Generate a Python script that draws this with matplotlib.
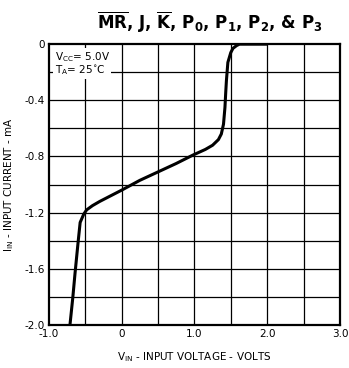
import matplotlib
matplotlib.use('Agg')
import matplotlib.pyplot as plt
import numpy as np

# curve (volts, mA)
vin = [-0.71, -0.67, -0.64, -0.60, -0.57, -0.52, -0.48, -0.40, -0.30, -0.15, 0.0, 0.25, 0.5, 0.75,
       0.98, 1.15, 1.25, 1.33, 1.37, 1.40, 1.42, 1.43, 1.44, 1.46, 1.50, 1.53, 1.58, 1.62, 1.8, 2.0]
iin = [-2.0, -1.80, -1.63, -1.42, -1.27, -1.21, -1.18, -1.15, -1.12, -1.08, -1.04, -0.97, -0.91, -0.85,
       -0.79, -0.75, -0.72, -0.68, -0.64, -0.57, -0.45, -0.35, -0.26, -0.13, -0.06, -0.03, -0.01, 0.0, 0.0, 0.0]

xticks = [-1.0, 0, 1.0, 2.0, 3.0]
xticklabels = ['-1.0', '0', '1.0', '2.0', '3.0']
yticks = [0, -0.4, -0.8, -1.2, -1.6, -2.0]
yticklabels = ['0', '-0.4', '-0.8', '-1.2', '-1.6', '-2.0']

plt.rcParams['mathtext.fontset'] = 'dejavusans'

fig = plt.figure(figsize=(3.49, 3.68), dpi=100)
ax = fig.add_axes([0.140, 0.117, 0.834, 0.763])

for x in np.arange(-0.5, 3.0, 0.5):
    ax.axvline(x, color='black', lw=0.9)
for y in np.arange(-1.8, 0.0, 0.2):
    ax.axhline(y, color='black', lw=0.9)

ax.plot(vin, iin, color='black', lw=2.2, solid_capstyle='butt')

ax.set_xlim(-1.0, 3.0)
ax.set_ylim(-2.0, 0)
ax.set_xticks(xticks)
ax.set_xticklabels(xticklabels, fontsize=7.5)
ax.set_yticks(yticks)
ax.set_yticklabels(yticklabels, fontsize=7.5)
ax.tick_params(length=0, pad=3)
for s in ax.spines.values():
    s.set_linewidth(1.6)

ax.set_xlabel(r'V$_{\rm IN}$ - INPUT VOLTAGE - VOLTS', fontsize=7.5, labelpad=8)
ax.set_ylabel(r'I$_{\rm IN}$ - INPUT CURRENT - mA', fontsize=7.5, labelpad=6)

ax.text(-0.92, -0.04, r'V$_{\rm CC}$= 5.0V' + '\n' + r'T$_{\rm A}$= 25$^{\circ}$C', fontsize=7.5,
        va='top', ha='left', linespacing=1.0,
        bbox=dict(facecolor='white', edgecolor='none', pad=1))

fig.text(0.6, 0.94, r'$\overline{\mathbf{MR}}$, J, $\overline{\mathbf{K}}$, P$_\mathbf{0}$, P$_\mathbf{1}$, P$_\mathbf{2}$, & P$_\mathbf{3}$',
         fontsize=12, fontweight='bold', ha='center', va='center')

plt.savefig('out.png', dpi=100)
